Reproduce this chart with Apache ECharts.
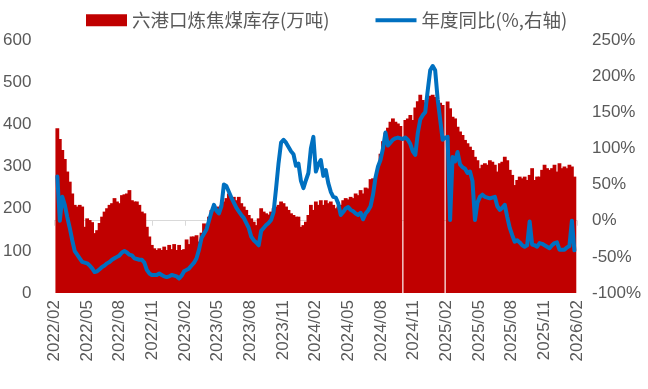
<!DOCTYPE html>
<html>
<head>
<meta charset="utf-8">
<script src="https://cdn.jsdelivr.net/npm/echarts@6/dist/echarts.min.js"></script>
<style>
html,body{margin:0;padding:0;background:#fff;}
#chart{width:648px;height:389px;}
</style>
</head>
<body>
<div id="chart"></div>
<script>
// Weekly series, first week ending 2022-02-04 (one value per week)
const firstWeekUTC = Date.UTC(2022, 1, 4);
const axisStartUTC = Date.UTC(2022, 1, 1);
const axisEndUTC = Date.UTC(2026, 1, 1);

// Quarterly tick labels on the x axis
const tickLabels = ['2022/02','2022/05','2022/08','2022/11','2023/02','2023/05','2023/08','2023/11',
  '2024/02','2024/05','2024/08','2024/11','2025/02','2025/05','2025/08','2025/11','2026/02'];

// 六港口炼焦煤库存 (万吨), weekly
const inventory = [
  391,365,339,318,288,264,236,209,205,209,
  205,157,177,173,168,142,149,166,181,193,
  201,209,213,225,217,213,232,234,236,244,
  220,217,217,209,193,189,157,134,114,106,
  102,106,102,110,102,114,104,116,102,114,
  102,104,127,116,134,134,137,122,143,165,
  161,181,197,209,197,205,209,217,225,236,
  225,228,220,228,213,205,197,185,177,169,
  161,177,201,193,189,186,193,201,205,209,
  217,213,205,197,189,185,181,181,157,161,
  169,185,209,197,217,209,220,209,220,213,
  217,209,201,205,209,220,225,222,228,225,
  236,232,244,236,250,248,270,272,264,300,
  330,360,380,392,406,414,406,402,396,null,
  410,414,422,410,440,455,470,458,452,460,
  468,470,465,458,451,446,null,454,438,418,
  414,394,383,375,363,355,347,339,323,315,
  296,304,308,304,315,311,304,288,308,311,
  323,315,292,280,256,268,276,272,276,268,
  280,296,268,276,276,292,304,296,292,296,
  304,288,308,296,300,296,304,300,276
];

// 年度同比 (%), weekly, right axis
const yoyPct = [
  61,0,33,22,5,-10,-27,-42,-47,-52,
  -57,-58,-59,-62,-66,-71,-70,-67,-64,-62,
  -59,-57,-54,-52,-50,-48,-44,-42,-44,-47,
  -48,-52,-53,-54,-54,-58,-68,-73,-75,-75,
  -75,-73,-75,-77,-78,-77,-75,-76,-77,-80,
  -76,-70,-68,-66,-62,-58,-52,-40,-24,-18,
  -12,0,12,22,14,10,20,50,48,40,
  32,25,18,13,8,4,-3,-10,-22,-27,
  -30,-34,-14,-10,-6,-3,1,12,45,80,
  108,112,108,102,96,92,76,79,55,45,
  56,66,100,116,68,78,84,62,70,52,
  40,33,32,24,8,12,17,19,15,13,
  10,8,11,2,10,14,20,36,60,75,
  84,100,122,104,108,112,114,115,114,113,
  115,112,106,96,91,121,140,146,150,180,
  208,214,208,168,140,112,115,116,1,88,
  82,95,78,74,72,66,68,55,1,25,
  33,36,33,32,31,32,33,20,15,18,
  22,5,-10,-20,-29,-27,-30,-34,-36,-34,
  -1,-33,-34,-36,-31,-32,-34,-36,-38,-34,
  -31,-30,-40,-40,-40,-37,-35,0,-41
];

const weekDates = inventory.map((_, i) => firstWeekUTC + i * 7 * 86400000);

const labelColor = '#595959';
const numFont = 'Liberation Sans';

const chart = echarts.init(document.getElementById('chart'), null, {renderer: 'canvas'});
chart.setOption({
  animation: false,
  backgroundColor: '#ffffff',
  grid: {left: 54, right: 71, top: 40, bottom: 96, containLabel: false},
  legend: {
    left: 86, top: 11, padding: 0,
    itemWidth: 41, itemHeight: 12, itemGap: 46,
    textStyle: {color: labelColor, fontSize: 18.5, fontFamily: 'Noto Sans CJK SC'},
    data: [
      {name: '六港口炼焦煤库存(万吨)', icon: 'rect'},
      {name: '年度同比(%,右轴)', icon: 'path://M0,0H41V4H0Z'}
    ]
  },
  xAxis: [
    {
      type: 'time', min: axisStartUTC, max: axisEndUTC, show: false
    },
    {
      type: 'category', data: tickLabels, boundaryGap: false, position: 'bottom',
      axisLine: {show: true, lineStyle: {color: '#D9D9D9', width: 1}},
      axisTick: {show: true, length: 5, lineStyle: {color: '#D9D9D9'}},
      axisLabel: {interval: 0, rotate: 90, margin: 7, color: labelColor, fontSize: 17, fontFamily: numFont},
      splitLine: {show: false}
    }
  ],
  yAxis: [
    {
      type: 'value', min: 0, max: 600, interval: 100,
      axisLine: {show: false}, axisTick: {show: false}, splitLine: {show: false},
      axisLabel: {margin: 23, color: labelColor, fontSize: 17, fontFamily: numFont}
    },
    {
      type: 'value', min: -100, max: 250, interval: 50, position: 'right',
      axisLine: {show: false}, axisTick: {show: false}, splitLine: {show: false},
      axisLabel: {margin: 15, color: labelColor, fontSize: 17, fontFamily: numFont, formatter: '{value}%'}
    }
  ],
  series: [
    {
      name: '六港口炼焦煤库存(万吨)', type: 'bar', xAxisIndex: 0, yAxisIndex: 0,
      barWidth: 3.8,
      itemStyle: {color: '#C00000'},
      data: weekDates.map((d, i) => [d, inventory[i]])
    },
    {
      name: '年度同比(%,右轴)', type: 'line', xAxisIndex: 0, yAxisIndex: 1,
      symbol: 'none', showSymbol: false,
      lineStyle: {color: '#0070C0', width: 4, cap: 'round', join: 'round'},
      itemStyle: {color: '#0070C0'},
      connectNulls: true,
      data: weekDates.map((d, i) => [d, yoyPct[i]])
    }
  ]
});
</script>
</body>
</html>
